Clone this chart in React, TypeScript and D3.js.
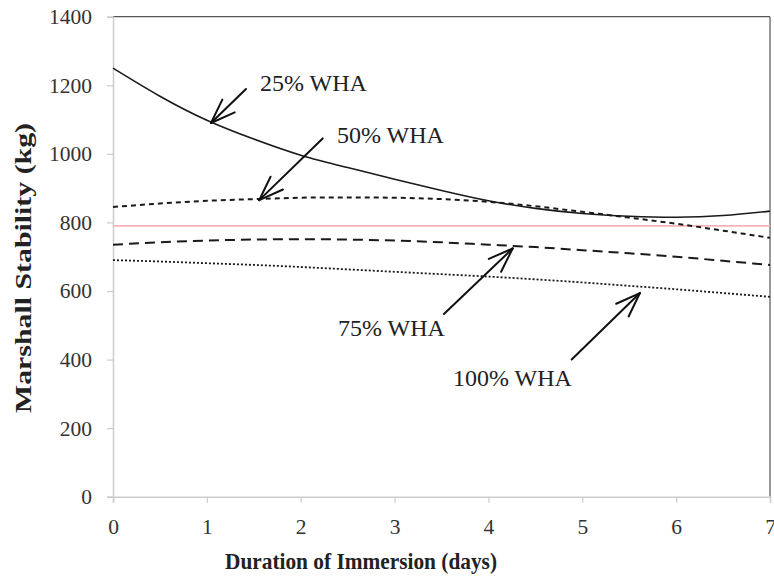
import * as d3 from "d3";
import { useEffect, useRef } from "react";

// days of immersion (x) and the fitted curves
const days = [0, 0.5, 1, 1.5, 2, 2.5, 3, 3.5, 4, 4.5, 5, 5.5, 6, 6.5, 7];
const wha25 = [1250, 1168, 1098, 1043, 996, 960, 926, 893, 863, 841, 826, 818, 815, 820, 833];
const wha50 = [845, 855, 863, 868, 872, 873, 872, 868, 860, 847, 831, 814, 796, 776, 755];
const wha75 = [735, 742, 747, 750, 751, 750, 747, 742, 735, 728, 719, 710, 700, 688, 676];
const wha100 = [690, 686, 681, 676, 670, 663, 656, 649, 642, 634, 625, 615, 605, 594, 583];
const refLine = 790;

const xTicks = [0, 1, 2, 3, 4, 5, 6, 7];
const yTicks = [0, 200, 400, 600, 800, 1000, 1200, 1400];

// annotation labels: text, label anchor (day, kg), arrow tail and tip (day, kg)
const labels = ["25% WHA", "50% WHA", "75% WHA", "100% WHA"];
const labelPos = [[1.566, 1183], [2.387, 1031], [2.397, 470], [3.622, 322]];
const arrowTail = [[1.417, 1189], [2.234, 1045], [3.526, 533], [4.887, 400]];
const arrowTip = [[1.044, 1090], [1.558, 865], [4.258, 724], [5.614, 594]];

const W = 774;
const H = 577;

function App() {
  const ref = useRef<SVGSVGElement>(null);

  useEffect(() => {
    const svg = d3.select(ref.current);
    svg.selectAll("*").remove();

    const x = d3.scaleLinear().domain([0, 7]).range([113, 770]);
    const y = d3.scaleLinear().domain([0, 1400]).range([496.7, 16.7]);

    // frame
    svg.append("line").attr("x1", x(0)).attr("x2", x(7)).attr("y1", y(1400)).attr("y2", y(1400))
      .attr("stroke", "#555").attr("stroke-width", 1.2);
    svg.append("line").attr("x1", x(7)).attr("x2", x(7)).attr("y1", y(1400)).attr("y2", y(0))
      .attr("stroke", "#777").attr("stroke-width", 1.5);

    const yAxis = svg.append("g").attr("transform", `translate(${x(0)},0)`)
      .call(d3.axisLeft(y).tickValues(yTicks).tickSize(6).tickPadding(15).tickFormat(d3.format("d")));
    yAxis.select(".domain").attr("stroke", "#ccc").attr("stroke-width", 1.5);
    yAxis.selectAll(".tick line").attr("stroke", "#ccc").attr("stroke-width", 1.2);
    yAxis.selectAll(".tick text").attr("font-family", "Liberation Serif").attr("font-size", 21.5)
      .attr("fill", "#333");

    const xAxis = svg.append("g").attr("transform", `translate(0,${y(0)})`)
      .call(d3.axisBottom(x).tickValues(xTicks).tickSize(6).tickPadding(16).tickFormat(d3.format("d")));
    xAxis.select(".domain").attr("stroke", "#ccc").attr("stroke-width", 1.5);
    xAxis.selectAll(".tick line").attr("stroke", "#ccc").attr("stroke-width", 1.2);
    xAxis.selectAll(".tick text").attr("font-family", "Liberation Serif").attr("font-size", 21.5)
      .attr("fill", "#333");

    // pink reference line
    svg.append("line").attr("x1", x(0)).attr("x2", x(7)).attr("y1", y(refLine)).attr("y2", y(refLine))
      .attr("stroke", "#f5b5b8").attr("stroke-width", 1.6);

    const line = d3.line<number>()
      .x((v, i) => x(days[i]))
      .y((v) => y(v))
      .curve(d3.curveNatural);

    const series = [
      { v: wha25, dash: null, w: 1.6 },
      { v: wha50, dash: "5,4", w: 2 },
      { v: wha75, dash: "10,6", w: 2 },
      { v: wha100, dash: "2,2", w: 1.8 },
    ];
    series.forEach((s) => {
      svg.append("path").attr("d", line(s.v)).attr("fill", "none").attr("stroke", "#1a1a1a")
        .attr("stroke-width", s.w).attr("stroke-dasharray", s.dash);
    });

    // arrows
    const head = 26;
    const ang = (20 * Math.PI) / 180;
    arrowTip.forEach((tip, i) => {
      const tx = x(tip[0]), ty = y(tip[1]);
      const sx = x(arrowTail[i][0]), sy = y(arrowTail[i][1]);
      const a = Math.atan2(sy - ty, sx - tx);
      const g = svg.append("g").attr("stroke", "#111").attr("stroke-width", 2).attr("fill", "none")
        .attr("stroke-linecap", "round");
      g.append("line").attr("x1", sx).attr("y1", sy).attr("x2", tx).attr("y2", ty);
      [a - ang, a + ang].forEach((b) => {
        g.append("line").attr("x1", tx).attr("y1", ty)
          .attr("x2", tx + head * Math.cos(b)).attr("y2", ty + head * Math.sin(b));
      });
    });

    labels.forEach((t, i) => {
      svg.append("text").attr("x", x(labelPos[i][0])).attr("y", y(labelPos[i][1]))
        .attr("font-family", "Liberation Serif").attr("font-size", 24).attr("fill", "#222").text(t);
    });

    // axis titles
    svg.append("text").attr("x", 361).attr("y", 569).attr("text-anchor", "middle")
      .attr("font-family", "Liberation Serif").attr("font-weight", "bold").attr("font-size", 24)
      .attr("textLength", 272).attr("lengthAdjust", "spacingAndGlyphs")
      .attr("fill", "#222").text("Duration of Immersion (days)");
    svg.append("text").attr("transform", "translate(31,268) rotate(-90)").attr("text-anchor", "middle")
      .attr("font-family", "Liberation Serif").attr("font-weight", "bold").attr("font-size", 23)
      .attr("textLength", 290).attr("lengthAdjust", "spacingAndGlyphs")
      .attr("fill", "#222").text("Marshall Stability (kg)");
  }, []);

  return (
    <svg ref={ref} width={W} height={H} style={{ position: "absolute", left: 0, top: 0, background: "#fff" }} />
  );
}

export default App;
